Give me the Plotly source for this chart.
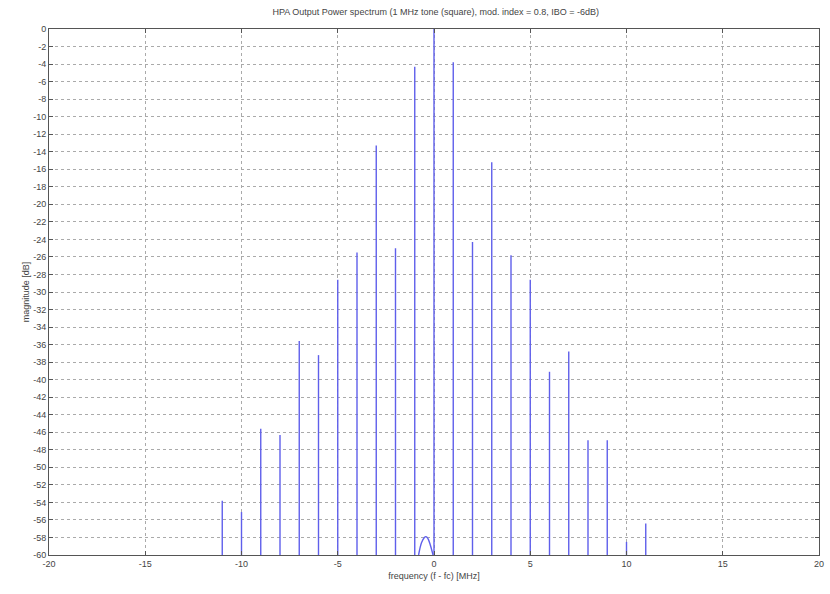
import plotly.graph_objects as go

# Spectral line frequencies (MHz) and magnitudes (dB)
freqs = [-11, -10, -9, -8, -7, -6, -5, -4, -3, -2, -1, 0, 1, 2, 3, 4, 5, 6, 7, 8, 9, 10, 11]
mags = [-53.8, -55.1, -45.6, -46.3, -35.6, -37.2, -28.6, -25.5, -13.3, -25.0, -4.3, 0.0,
        -3.8, -24.3, -15.2, -25.8, -28.6, -39.1, -36.8, -46.9, -46.9, -58.5, -56.4]
floor_db = -60

# small continuous bump near the carrier
hump_x = [-0.8, -0.65, -0.5, -0.42, -0.32, -0.2, -0.05]
hump_y = [-60, -58.6, -58.0, -57.9, -58.1, -58.8, -60]

x_ticks = [-20, -15, -10, -5, 0, 5, 10, 15, 20]
y_ticks = list(range(-60, 1, 2))

title = "HPA Output Power spectrum (1 MHz tone (square), mod. index = 0.8, IBO = -6dB)"
x_label = "frequency (f - fc) [MHz]"
y_label = "magnitude [dB]"

sx, sy = [], []
for f, m in zip(freqs, mags):
    sx += [f, f, None]
    sy += [floor_db, m, None]

line_col = "rgb(95,95,235)"
fig = go.Figure()
fig.add_trace(go.Scatter(x=sx, y=sy, mode="lines", line=dict(color=line_col, width=1.4),
                         hoverinfo="skip", showlegend=False))
fig.add_trace(go.Scatter(x=hump_x, y=hump_y, mode="lines", line=dict(color=line_col, width=1.4, shape="spline"),
                         hoverinfo="skip", showlegend=False))

axis_common = dict(showline=True, linecolor="#555", linewidth=1, mirror="ticks",
                   ticks="inside", ticklen=4, tickcolor="#555", automargin=False,
                   showgrid=True, gridcolor="#aaa", griddash="dot", gridwidth=1,
                   zeroline=False, tickfont=dict(family="Liberation Sans, Arial", size=9, color="#444"))

fig.update_xaxes(range=[-20, 20], tickvals=x_ticks, ticktext=[str(v) for v in x_ticks],
                 title=dict(text=x_label, font=dict(family="Liberation Sans, Arial", size=9, color="#444"), standoff=4),
                 **axis_common)
fig.update_yaxes(range=[-60, 0], tickvals=y_ticks, ticktext=[str(v) for v in y_ticks],
                 title=dict(text=y_label, font=dict(family="Liberation Sans, Arial", size=9, color="#444"), standoff=2),
                 **axis_common)

fig.update_layout(
    width=830, height=594,
    margin=dict(l=49, r=11, t=29, b=39),
    paper_bgcolor="white", plot_bgcolor="white",
    title=dict(text=title, x=0.525, xanchor="center", y=0.985, yanchor="top",
               font=dict(family="Liberation Sans, Arial", size=9, color="#444")),
)

fig.write_html("out.html")
